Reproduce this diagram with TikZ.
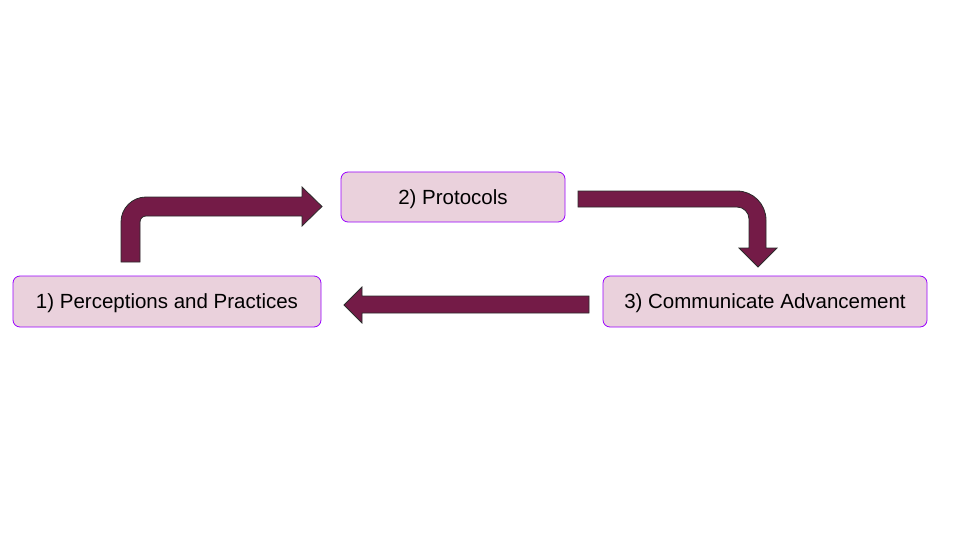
\documentclass[tikz,border=0pt]{standalone}
\usepackage{fontspec}
\setmainfont{Liberation Sans}
\definecolor{boxfill}{HTML}{EAD1DC}
\definecolor{boxline}{HTML}{9900FF}
\definecolor{arrfill}{HTML}{741B47}
\definecolor{arrline}{HTML}{2B2B2B}
\begin{document}
\begin{tikzpicture}[x=1pt,y=-1pt,
  stepbox/.style={draw=boxline,fill=boxfill,line width=0.8pt,rounded corners=7pt,
    font=\fontsize{20.5}{25}\selectfont,text=black,inner sep=0pt,anchor=center,
    text height=18pt,text depth=3.6pt},
  blockarrow/.style={fill=arrfill,draw=arrline,line width=0.8pt,line join=miter}]
\useasboundingbox (0,0) rectangle (960,540);
\node[stepbox,minimum width=308pt,minimum height=51pt] (b1) at (167,301.5) {1) Perceptions and Practices};
\node[stepbox,minimum width=224pt,minimum height=50pt] (b2) at (453,197) {2) Protocols};
\node[stepbox,minimum width=324pt,minimum height=51pt] (b3) at (765,301.5) {3) Communicate Advancement};
% arrow 1 -> 2
\draw[blockarrow] (121,262) -- (121,222) .. controls (121,208.2) and (132.2,197) .. (146,197)
  -- (302,197) -- (302,187) -- (322,206.5) -- (302,226) -- (302,216) -- (146,216)
  .. controls (142.7,216) and (140,218.7) .. (140,222) -- (140,262) -- cycle;
% arrow 2 -> 3
\draw[blockarrow] (578,191) -- (737,191) .. controls (753,191) and (766,204) .. (766,220)
  -- (766,248) -- (777,248) -- (758,267) -- (739,248) -- (749,248) -- (749,219)
  .. controls (749,212.4) and (743.6,207) .. (737,207) -- (578,207) -- cycle;
% arrow 3 -> 1
\draw[blockarrow] (589,296) -- (362,296) -- (362,287) -- (344,305) -- (362,323) -- (362,313) -- (589,313) -- cycle;
\end{tikzpicture}
\end{document}
